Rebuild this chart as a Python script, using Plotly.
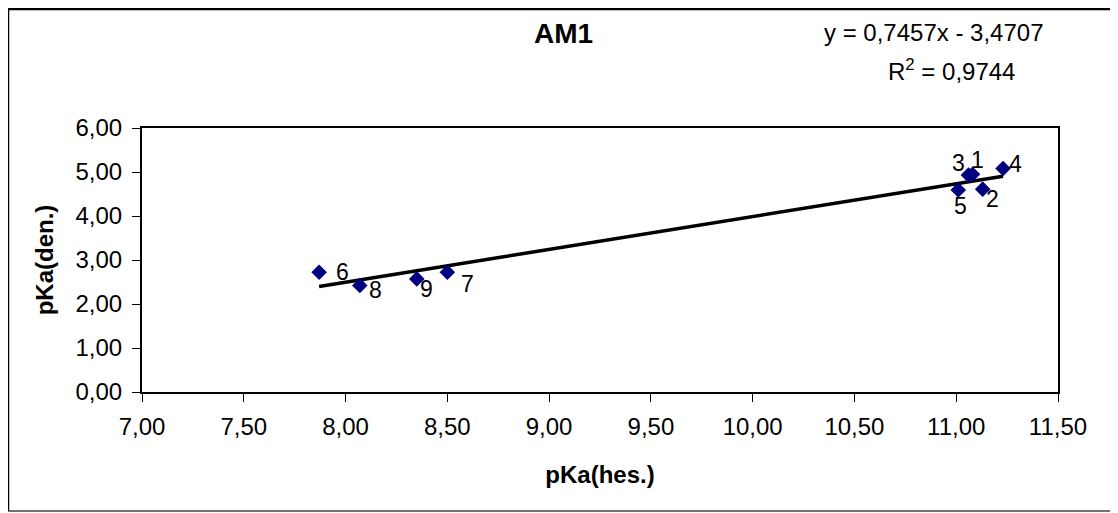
import plotly.graph_objects as go

# Data
labels = ["1", "2", "3", "4", "5", "6", "7", "8", "9"]
pka_hes = [11.08, 11.13, 11.06, 11.23, 11.01, 7.87, 8.50, 8.07, 8.35]
pka_den = [4.95, 4.61, 4.93, 5.08, 4.59, 2.72, 2.72, 2.42, 2.57]
slope = 0.7457
intercept = -3.4707
r2 = 0.9744
x_ticks = [7.0, 7.5, 8.0, 8.5, 9.0, 9.5, 10.0, 10.5, 11.0, 11.5]
y_ticks = [0, 1, 2, 3, 4, 5, 6]

# label offsets in pixels (style)
label_shift = {
    "1": (5, 14), "2": (10, -10), "3": (-10, 12), "4": (12, 4), "5": (2, -16),
    "6": (23, 0), "7": (20, -12), "8": (16, -4), "9": (10, -10),
}

OFF = 8  # page body margin
W, H = 1110, 505
L, R, T, B = 134, 60, 120, 121
PW, PH = W - L - R, H - T - B

def px(page_x):
    return (page_x - OFF - L) / PW

def py(page_y):
    return (H - B - (page_y - OFF)) / PH

FONT = "Liberation Sans, Arial, sans-serif"

fig = go.Figure()

xmin, xmax = min(pka_hes), max(pka_hes)
fig.add_trace(go.Scatter(
    x=[xmin, xmax], y=[slope * xmin + intercept, slope * xmax + intercept],
    mode="lines", line=dict(color="black", width=3.5), hoverinfo="skip",
    showlegend=False,
))

fig.add_trace(go.Scatter(
    x=pka_hes, y=pka_den, mode="markers",
    marker=dict(symbol="diamond", size=12, color="#000080",
                line=dict(width=0)),
    showlegend=False,
))

annotations = []
for lab, xv, yv in zip(labels, pka_hes, pka_den):
    dx, dy = label_shift[lab]
    annotations.append(dict(
        x=xv, y=yv, xref="x", yref="y", text=lab, showarrow=False,
        xshift=dx, yshift=dy, font=dict(family=FONT, size=23, color="black"),
    ))

annotations.append(dict(
    x=px(563), y=py(33), xref="paper", yref="paper", text="<b>AM1</b>",
    showarrow=False, font=dict(family=FONT, size=28, color="black"),
    xanchor="center", yanchor="middle",
))
annotations.append(dict(
    x=px(934), y=py(32), xref="paper", yref="paper",
    text=f"y = {str(slope).replace('.', ',')}x - {str(abs(intercept)).replace('.', ',')}",
    showarrow=False, font=dict(family=FONT, size=24, color="black"),
    xanchor="center", yanchor="middle",
))
annotations.append(dict(
    x=px(951), y=py(70), xref="paper", yref="paper",
    text=f"R<sup>2</sup> = {str(r2).replace('.', ',')}",
    showarrow=False, font=dict(family=FONT, size=24, color="black"),
    xanchor="center", yanchor="middle",
))

fig.update_layout(
    width=W, height=H,
    margin=dict(l=L, r=R, t=T, b=B, pad=0),
    paper_bgcolor="white", plot_bgcolor="white",
    separators=",.",
    font=dict(family=FONT, size=24, color="black"),
    annotations=annotations,
    shapes=[
        dict(type="line", xref="paper", yref="paper",
             x0=px(8), x1=px(8), y0=py(511), y1=py(9),
             line=dict(color="black", width=2.5), layer="below"),
        dict(type="line", xref="paper", yref="paper",
             x0=px(8), x1=px(1118), y0=py(9), y1=py(9),
             line=dict(color="black", width=2.5), layer="below"),
        dict(type="line", xref="paper", yref="paper",
             x0=px(8), x1=px(1118), y0=py(511), y1=py(511),
             line=dict(color="#444444", width=1.5), layer="below"),
    ],
)

fig.update_xaxes(
    range=[7, 11.5], tickvals=x_ticks, tickformat=".2f",
    showline=True, linecolor="black", linewidth=2, mirror=True,
    ticks="outside", ticklen=8, tickcolor="black", tickwidth=1,
    ticklabelstandoff=4,
    showgrid=False, zeroline=False,
    tickfont=dict(family=FONT, size=24, color="black"),
    title=dict(text="<b>pKa(hes.)</b>", font=dict(family=FONT, size=24, color="black"), standoff=27),
)
fig.update_yaxes(
    range=[0, 6], tickvals=y_ticks, tickformat=".2f",
    showline=True, linecolor="black", linewidth=2, mirror=True,
    ticks="outside", ticklen=8, tickcolor="black", tickwidth=1,
    ticklabelstandoff=5,
    showgrid=False, zeroline=False,
    tickfont=dict(family=FONT, size=24, color="black"),
    title=dict(text="<b>pKa(den.)</b>", font=dict(family=FONT, size=24, color="black"), standoff=15),
)

fig.write_html("out.html")
